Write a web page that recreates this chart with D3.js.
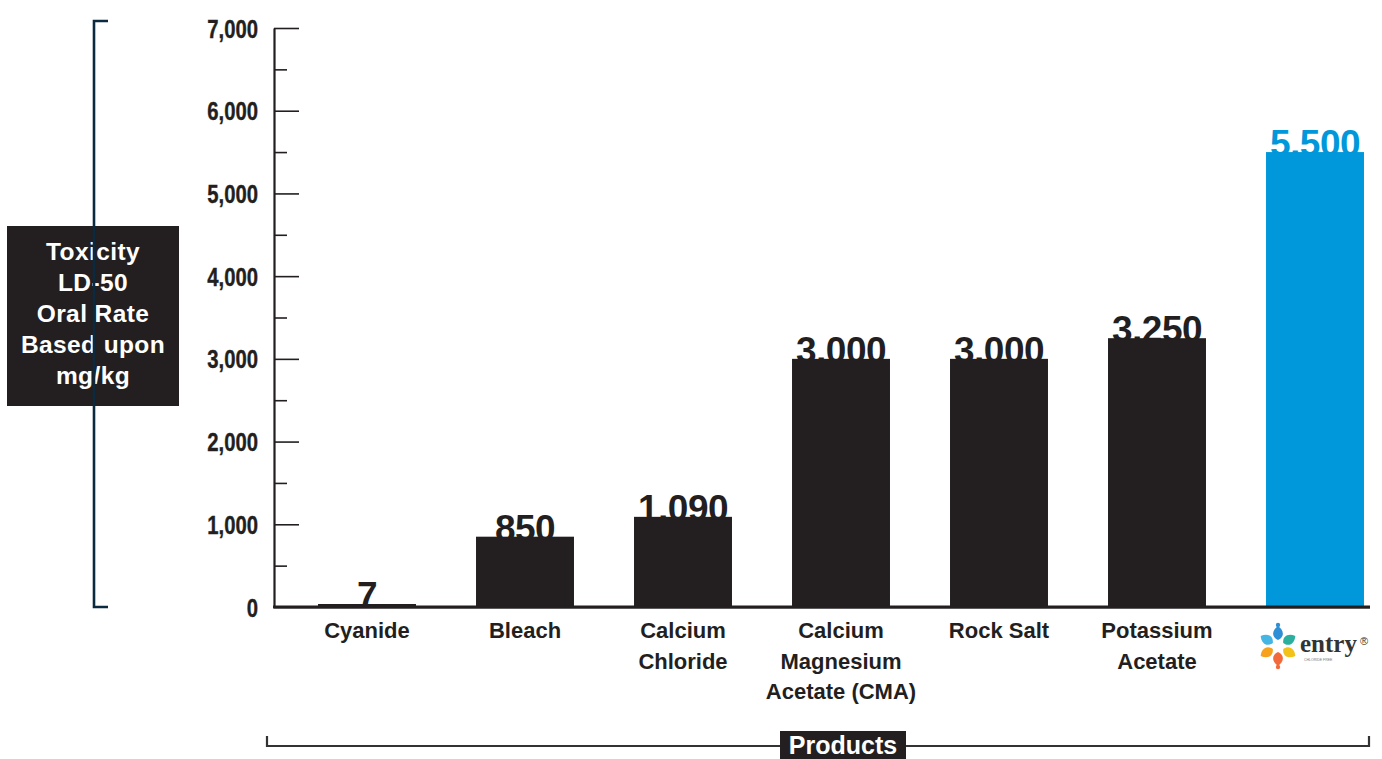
<!DOCTYPE html>
<html><head><meta charset="utf-8">
<script src="https://cdn.jsdelivr.net/npm/d3@7"></script>
<style>
html,body{margin:0;padding:0;background:#fff;}
svg{display:block;}
</style></head>
<body>
<svg id="chart" width="1382" height="759"></svg>
<script>
const categories = ["Cyanide","Bleach","Calcium Chloride","Calcium Magnesium Acetate (CMA)","Rock Salt","Potassium Acetate","Entry"];
const categoryLines = [["Cyanide"],["Bleach"],["Calcium","Chloride"],["Calcium","Magnesium","Acetate (CMA)"],["Rock Salt"],["Potassium","Acetate"],[]];
const values = [7, 850, 1090, 3000, 3000, 3250, 5500];
const valueLabels = ["7","850","1,090","3,000","3,000","3,250","5,500"];
const majorTicks = [0,1000,2000,3000,4000,5000,6000,7000];
const minorTicks = [500,1500,2500,3500,4500,5500,6500];
const yTitleLines = ["Toxicity","LD-50","Oral Rate","Based upon","mg/kg"];
const xTitle = "Products";

const DARK = "#231f20", BLUE = "#0098da";
const svg = d3.select("#chart");
const axisX = 274, baseY = 607, topY = 28;

const y = d3.scaleLinear().domain([0,7000]).range([baseY, topY]);
const x = d3.scaleBand().domain(categories).range([288, 1394]).paddingInner(0.38).paddingOuter(0.19);
const fmt = d3.format(",");

// Left title box
const boxG = svg.append("g");
boxG.append("rect").attr("x",7).attr("y",226).attr("width",172).attr("height",180).attr("fill",DARK);
const tt = boxG.append("text").attr("text-anchor","middle").attr("fill","#fff")
  .attr("font-family","Liberation Sans, Arial, sans-serif").attr("font-weight","bold")
  .attr("font-size",24.5).attr("letter-spacing","0.4px");
yTitleLines.forEach((l,i)=>tt.append("tspan").attr("x",93).attr("y",260+i*31).text(l));
// Left bracket (drawn over the box)
svg.append("path").attr("d","M108,21H94V607H108").attr("fill","none").attr("stroke","#0b2a40").attr("stroke-width",2.6);

// Minor ticks
svg.append("g").attr("transform",`translate(${axisX},0)`)
  .call(d3.axisLeft(y).tickValues(minorTicks).tickSize(-13).tickSizeOuter(0).tickFormat(""))
  .call(g=>g.select(".domain").remove())
  .call(g=>g.selectAll("line").attr("stroke",DARK).attr("stroke-width",1.6));
// Major axis
const sx = 0.78;
const yAxis = svg.append("g").attr("transform",`translate(${axisX},0)`)
  .call(d3.axisLeft(y).tickValues(majorTicks).tickSize(-25).tickSizeOuter(0).tickPadding(16).tickFormat(fmt));
yAxis.select(".domain").attr("stroke",DARK).attr("stroke-width",2.2);
yAxis.selectAll("line").attr("stroke",DARK).attr("stroke-width",1.6);
yAxis.selectAll("text").attr("fill",DARK)
  .attr("font-family","Liberation Sans, Arial, sans-serif")
  .attr("font-weight","bold").attr("font-size",26).attr("dy","0.35em")
  .attr("stroke",DARK).attr("stroke-width",0.4)
  .attr("x",-16/sx).attr("transform",`scale(${sx},1)`);

// Value labels (under bars so bar top clips them)
svg.append("g").selectAll("text").data(categories).join("text")
  .attr("x",d=>x(d)+x.bandwidth()/2)
  .attr("y",(d,i)=>Math.min(y(values[i]), baseY-3)+4)
  .attr("text-anchor","middle")
  .attr("font-family","Liberation Sans, Arial, sans-serif").attr("font-weight","bold")
  .attr("font-size",37).attr("letter-spacing","-0.5px")
  .attr("fill",(d,i)=>i===categories.length-1?BLUE:DARK)
  .text((d,i)=>valueLabels[i]);

// Bars
svg.append("g").selectAll("rect").data(categories).join("rect")
  .attr("x",d=>x(d)).attr("width",x.bandwidth())
  .attr("y",(d,i)=>Math.min(y(values[i]), baseY-3))
  .attr("height",(d,i)=>baseY-Math.min(y(values[i]), baseY-3))
  .attr("fill",(d,i)=>i===categories.length-1?BLUE:DARK);

// Baseline
svg.append("line").attr("x1",axisX).attr("x2",1370).attr("y1",baseY+1.5).attr("y2",baseY+1.5).attr("stroke","#999").attr("stroke-width",1);
svg.append("line").attr("x1",axisX-1).attr("x2",1370).attr("y1",baseY).attr("y2",baseY).attr("stroke",DARK).attr("stroke-width",3);

// Category labels
const catG = svg.append("g");
categories.forEach((c,i)=>{
  const t = catG.append("text").attr("text-anchor","middle").attr("fill",DARK)
    .attr("font-family","Liberation Sans, Arial, sans-serif").attr("font-weight","bold").attr("font-size",22);
  categoryLines[i].forEach((l,j)=>t.append("tspan").attr("x",x(c)+x.bandwidth()/2).attr("y",baseY+31+j*30.5).text(l));
});

// Entry logo in last slot
const lc = x("Entry")+x.bandwidth()/2;
const star = svg.append("g").attr("transform",`translate(${lc-37},646)`);
const petals = [[0,"#2f8fd6"],[60,"#2bb0a0"],[120,"#f2c21a"],[180,"#f26a3a"],[240,"#f7a21d"],[300,"#45b5e3"]];
petals.forEach(p=>{
  star.append("path").attr("transform",`rotate(${p[0]}) translate(0,-13)`)
    .attr("d","M0,-7 C6,-3 7,4 0,7 C-7,4 -6,-3 0,-7Z").attr("fill",p[1]);
});
star.append("circle").attr("cx",0).attr("cy",-21).attr("r",2.2).attr("fill","#2f8fd6");
star.append("circle").attr("cx",0).attr("cy",21).attr("r",2.2).attr("fill","#f26a3a");
const logoText = svg.append("g").attr("transform",`translate(${lc-15},652)`);
logoText.append("text").attr("x",0).attr("y",0).attr("font-family","Liberation Serif, serif").attr("font-weight","bold")
  .attr("font-size",25).attr("fill","#333").text("entry");
logoText.append("text").attr("x",60).attr("y",-7).attr("font-family","Liberation Sans, sans-serif").attr("font-size",11).attr("fill","#333").text("®");
logoText.append("text").attr("x",4).attr("y",9).attr("font-family","Liberation Sans, sans-serif").attr("font-size",3.5).attr("fill","#777").text("CHLORIDE FREE");

// Bottom bracket
svg.append("path").attr("d","M267,736V746H1369V736").attr("fill","none").attr("stroke","#333").attr("stroke-width",2.2);
const pw = 126;
svg.append("rect").attr("x",843-pw/2).attr("y",731).attr("width",pw).attr("height",30).attr("fill",DARK);
svg.append("text").attr("x",843).attr("y",754).attr("text-anchor","middle").attr("fill","#fff")
  .attr("font-family","Liberation Sans, Arial, sans-serif").attr("font-weight","bold").attr("font-size",25).text(xTitle);
</script>
</body></html>
